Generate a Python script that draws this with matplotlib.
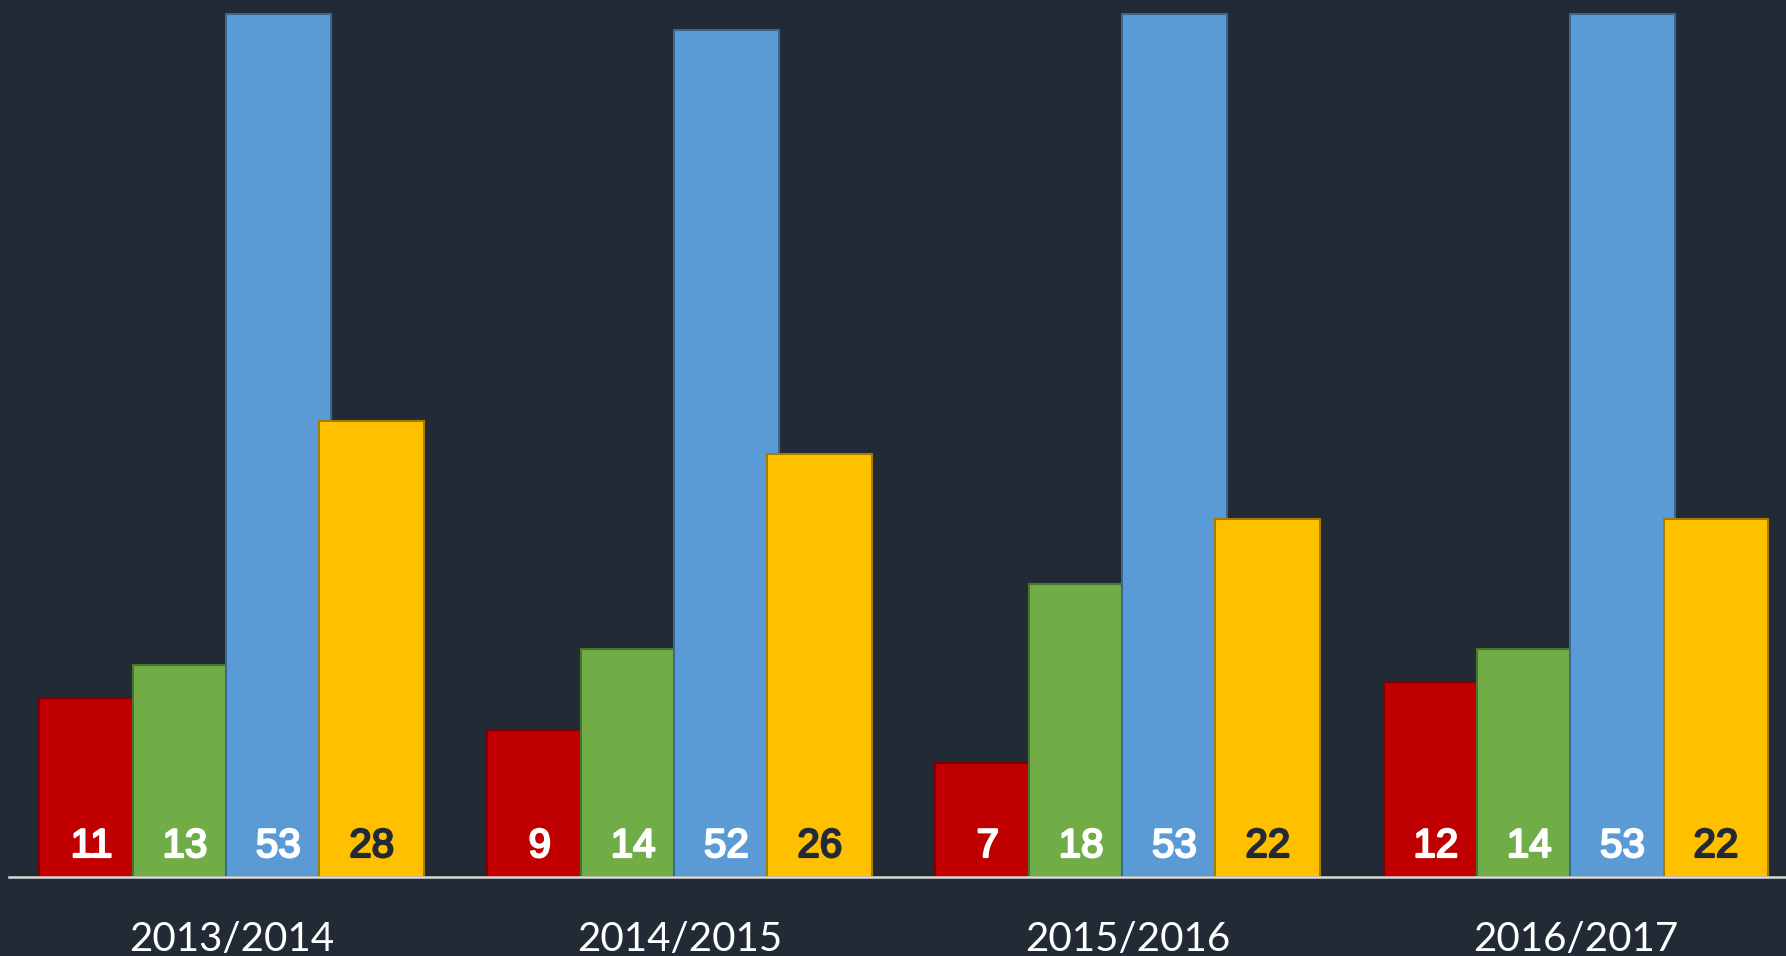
import numpy as np
from matplotlib import pyplot as plt
from matplotlib import patheffects as pe

seasons = ["2013/2014", "2014/2015", "2015/2016", "2016/2017"]
red_values = [11, 9, 7, 12]
green_values = [13, 14, 18, 14]
blue_values = [53, 52, 53, 53]
yellow_values = [28, 26, 22, 22]

series = [
    (red_values, "#c00000", "#7e0000", "white"),
    (green_values, "#70ad47", "#4a7530", "white"),
    (blue_values, "#5b9bd5", "#3a6890", "white"),
    (yellow_values, "#ffc000", "#a67c00", "#222a35"),
]

bg = "#222a35"
fig = plt.figure(figsize=(17.86, 9.56), dpi=100, facecolor=bg)
ax = fig.add_axes([9 / 1786, 79 / 956, 1 - 9 / 1786, 877 / 956])
ax.set_facecolor(bg)

x = np.arange(len(seasons))
step = 0.2083   # bars overlap a little, like Excel's overlap setting
width = 0.2335
for i, (values, color, edge, text_color) in enumerate(series):
    pos = x + (i - 1.5) * step
    ax.bar(pos, values, width=width, color=color, edgecolor=edge,
           linewidth=1.5, zorder=2 + i)
    for xp, v in zip(pos, values):
        ax.annotate(str(v), (xp, 0), xytext=(0, 14.4), textcoords="offset points",
                    ha="center", va="baseline", color=text_color,
                    fontsize=29, family="Liberation Sans", zorder=10,
                    path_effects=[pe.withStroke(linewidth=1.6, foreground=text_color)])

ax.set_xlim(-0.497, 3.469)
ax.set_ylim(0, 53.86)
ax.set_yticks([])
ax.set_xticks(x)
ax.set_xticklabels(seasons, fontsize=29, color="white", family="Lato")
ax.tick_params(axis="x", length=0, pad=32)
for side in ["top", "left", "right"]:
    ax.spines[side].set_visible(False)
ax.spines["bottom"].set_color("#d9d9d9")
ax.spines["bottom"].set_linewidth(1.8)
ax.spines["bottom"].set_zorder(20)

plt.savefig("out.png", dpi=100, facecolor=bg)
plt.close()
